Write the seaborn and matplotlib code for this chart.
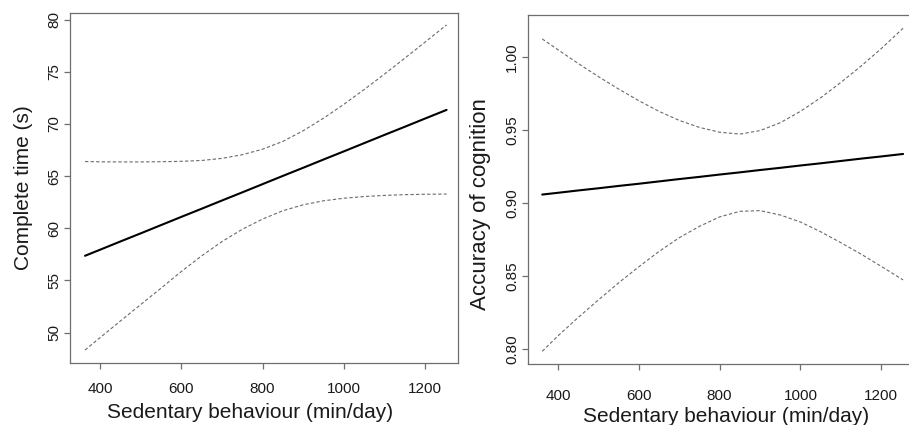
import numpy as np
import pandas as pd
import matplotlib
matplotlib.use("Agg")
import matplotlib.pyplot as plt
from matplotlib.ticker import FormatStrFormatter
import seaborn as sns

# Left panel: completion time vs sedentary behaviour (fit and 95% band)
time_x = [363, 400, 450, 500, 550, 600, 650, 700, 750, 800,
          850, 900, 950, 1000, 1050, 1100, 1150, 1200, 1253]
time_fit = [57.36, 57.94, 58.73, 59.51, 60.30, 61.09, 61.87, 62.66, 63.44, 64.23,
            65.02, 65.80, 66.59, 67.37, 68.16, 68.95, 69.73, 70.52, 71.35]
time_upper = [66.40, 66.37, 66.36, 66.36, 66.38, 66.42, 66.50, 66.70, 67.05, 67.58,
              68.33, 69.35, 70.55, 71.88, 73.30, 74.78, 76.30, 77.85, 79.50]
time_lower = [48.32, 49.51, 51.10, 52.68, 54.25, 55.85, 57.35, 58.72, 59.90, 60.88,
              61.68, 62.25, 62.63, 62.88, 63.04, 63.15, 63.22, 63.26, 63.28]

# Right panel: accuracy of cognition vs sedentary behaviour (fit and 95% band)
acc_x = [361, 400, 450, 500, 550, 600, 650, 700, 750, 800,
         850, 900, 950, 1000, 1050, 1100, 1150, 1200, 1254]
acc_fit = [0.9060, 0.9072, 0.9088, 0.9103, 0.9119, 0.9134, 0.9150, 0.9166, 0.9181, 0.9197,
           0.9212, 0.9228, 0.9243, 0.9259, 0.9274, 0.9290, 0.9306, 0.9321, 0.9338]
acc_upper = [1.0126, 1.0052, 0.9958, 0.9868, 0.9783, 0.9703, 0.9630, 0.9568, 0.9520, 0.9487,
             0.9474, 0.9498, 0.9552, 0.9630, 0.9723, 0.9828, 0.9940, 1.0060, 1.0199]
acc_lower = [0.7986, 0.8092, 0.8218, 0.8338, 0.8455, 0.8565, 0.8670, 0.8764, 0.8842, 0.8907,
             0.8945, 0.8950, 0.8920, 0.8872, 0.8805, 0.8730, 0.8652, 0.8568, 0.8475]

time_xticks = [400, 600, 800, 1000, 1200]
time_yticks = [50, 55, 60, 65, 70, 75, 80]
acc_xticks = [400, 600, 800, 1000, 1200]
acc_yticks = [0.80, 0.85, 0.90, 0.95, 1.00]

x_label = "Sedentary behaviour (min/day)"
time_label = "Complete time (s)"
acc_label = "Accuracy of cognition"

sns.set_theme(style="white")
plt.rcParams["font.family"] = ["Liberation Sans", "DejaVu Sans"]

SPINE = "#6e6e6e"
TEXT = "#1a1a1a"
BAND = "#6a6a6a"


def long_frame(x, fit, upper, lower):
    parts = []
    for name, vals in (("fit", fit), ("upper", upper), ("lower", lower)):
        parts.append(pd.DataFrame({"x": x, "y": vals, "curve": name}))
    return pd.concat(parts, ignore_index=True)


def draw(ax, df):
    sns.lineplot(data=df[df.curve == "fit"], x="x", y="y", ax=ax,
                 color="black", lw=1.5, sort=True, estimator=None)
    for name in ("upper", "lower"):
        sns.lineplot(data=df[df.curve == name], x="x", y="y", ax=ax,
                     color=BAND, lw=0.8, linestyle=(0, (3, 2)),
                     sort=True, estimator=None)


def style(ax, xticks, yticks, xlim, ylim):
    ax.set_xlim(*xlim)
    ax.set_ylim(*ylim)
    ax.set_xticks(xticks)
    ax.set_yticks(yticks)
    for s in ("left", "bottom", "top", "right"):
        ax.spines[s].set_color(SPINE)
        ax.spines[s].set_linewidth(0.9)
    ax.tick_params(axis="both", direction="out", length=4.3, width=0.9,
                   color=SPINE, labelcolor=TEXT, labelsize=11,
                   bottom=True, left=True)
    ax.tick_params(axis="y", labelrotation=90, pad=2)
    for lab in ax.get_yticklabels():
        lab.set_va("center")


fig = plt.figure(figsize=(9.09, 4.25), dpi=100)
ax1 = fig.add_axes([0.0770, 0.1452, 0.4268, 0.8249])
ax2 = fig.add_axes([0.5805, 0.1428, 0.4290, 0.8219])

draw(ax1, long_frame(time_x, time_fit, time_upper, time_lower))
draw(ax2, long_frame(acc_x, acc_fit, acc_upper, acc_lower))

style(ax1, time_xticks, time_yticks, (326, 1281), (47.05, 80.67))
style(ax2, acc_xticks, acc_yticks, (325, 1290), (0.7897, 1.029))
ax2.yaxis.set_major_formatter(FormatStrFormatter("%.2f"))
for lab in ax2.get_yticklabels():
    lab.set_va("center")

ax1.tick_params(axis="x", pad=9.5)
ax2.tick_params(axis="x", pad=13.5)

ax1.set_xlabel(x_label, fontsize=15, color=TEXT)
ax1.set_ylabel(time_label, fontsize=15, color=TEXT)
ax2.set_xlabel(x_label, fontsize=15, color=TEXT)
ax2.set_ylabel(acc_label, fontsize=16, color=TEXT)

ax1.xaxis.set_label_coords(0.464, -0.114)
ax1.yaxis.set_label_coords(-0.095, 0.5)
ax2.xaxis.set_label_coords(0.510, -0.121)
ax2.yaxis.set_label_coords(-0.095, 0.46)

fig.savefig("out.png", dpi=100, facecolor="white")
